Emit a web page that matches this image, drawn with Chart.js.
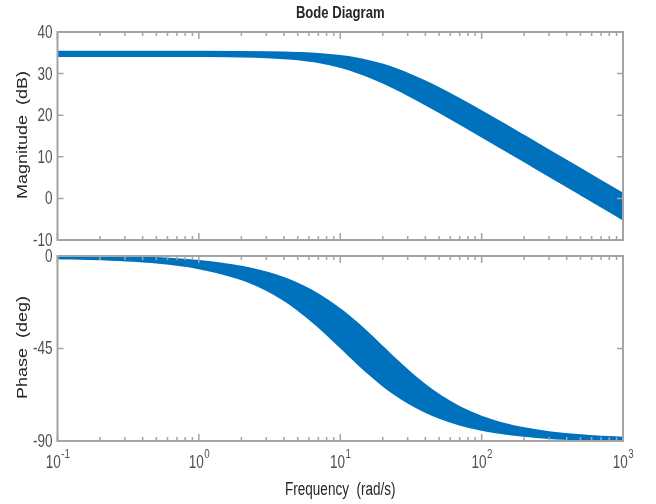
<!DOCTYPE html>
<html>
<head>
<meta charset="utf-8">
<script src="https://cdn.jsdelivr.net/npm/chart.js@4.4.0/dist/chart.umd.min.js"></script>
<style>
html,body{margin:0;padding:0;background:#fff;}
#wrap{position:relative;width:656px;height:504px;overflow:hidden;}
#topBox{position:absolute;left:0;top:0;width:656px;height:248px;}
#botBox{position:absolute;left:0;top:248px;width:656px;height:256px;}
</style>
</head>
<body>
<div id="wrap">
<div id="topBox"><canvas id="magChart" width="656" height="248"></canvas></div>
<div id="botBox"><canvas id="phaseChart" width="656" height="256"></canvas></div>
</div>
<script>
// frequencies (rad/s) at which the two edges of the band were read
const freqs=[0.1,0.2,0.5,1,2,3,4,5,7,10,13,16,20,25,30,40,50,70,100,150,200,300,500,700,1000];
// magnitude (dB), upper and lower edge of the band
const magUpper=[35.0,35.0,35.0,34.99,34.95,34.9,34.82,34.72,34.48,33.98,33.4,32.76,31.88,30.78,29.73,27.83,26.21,23.57,20.64,17.21,14.74,11.24,6.81,3.89,0.8];
const magLower=[34.5,34.5,34.49,34.46,34.36,34.18,33.95,33.67,33.0,31.85,30.66,29.51,28.1,26.53,25.17,22.9,21.07,18.24,15.2,11.7,9.22,5.7,1.27,-1.65,-4.75];
// phase (deg), upper and lower edge of the band
const phaseUpper=[-0.29,-0.57,-1.43,-2.86,-5.71,-8.53,-11.31,-14.04,-19.29,-26.57,-33.02,-38.66,-45.0,-51.34,-56.31,-63.43,-68.2,-74.05,-78.69,-82.41,-84.29,-86.19,-87.71,-88.36,-88.85];
const phaseLower=[-0.55,-1.09,-2.73,-5.44,-10.78,-15.95,-20.85,-25.46,-33.69,-43.6,-51.07,-56.73,-62.3,-67.22,-70.71,-75.29,-78.14,-81.47,-84.01,-86.0,-86.99,-88.0,-88.8,-89.14,-89.4];

const magTicks=[40,30,20,10,0,-10];
const phaseTicks=[0,-45,-90];
const decades=[0.1,1,10,100,1000];
const decadeExp=['-1','0','1','2','3'];

const bandColor='#0072BD';
const frameColor='#a4a4a4';
const tickTextColor='#505050';
const titleColor='#262626';
const fontFam="'Liberation Sans',Arial,Helvetica,sans-serif";
const squeeze=0.75; // the picture's text is narrow

function pts(ys){
  return freqs.map((f,i)=>({x:f,y:ys[i]}));
}

function bandSets(up,low){
  const base={borderColor:bandColor,backgroundColor:bandColor,borderWidth:4,pointRadius:0,cubicInterpolationMode:'monotone'};
  return [
    Object.assign({},base,{data:pts(up),fill:false}),
    Object.assign({},base,{data:pts(low),fill:'-1'})
  ];
}

function narrowText(ctx,str,x,y,font,align,baseline,sx){
  ctx.save();
  ctx.translate(x,y);
  ctx.scale(sx,1);
  ctx.font=font;
  ctx.textAlign=align;
  ctx.textBaseline=baseline;
  ctx.fillText(str,0,0);
  ctx.restore();
}

// box + inward ticks + texts, matlab style
const matlabAxes={
  id:'matlabAxes',
  afterDatasetsDraw(chart,args,opts){
    const ctx=chart.ctx, a=chart.chartArea;
    const xs=chart.scales.x, ys=chart.scales.y;
    ctx.save();
    ctx.strokeStyle=frameColor;
    ctx.lineWidth=1.5;
    ctx.beginPath();
    for(let k=0;k<decades.length;k++){
      const d=decades[k];
      let px=xs.getPixelForValue(d);
      ctx.moveTo(px,a.top);ctx.lineTo(px,a.top+7);
      ctx.moveTo(px,a.bottom);ctx.lineTo(px,a.bottom-7);
      if(k<decades.length-1){
        for(let m=2;m<=9;m++){
          px=xs.getPixelForValue(d*m);
          ctx.moveTo(px,a.top);ctx.lineTo(px,a.top+4);
          ctx.moveTo(px,a.bottom);ctx.lineTo(px,a.bottom-4);
        }
      }
    }
    opts.yTicks.forEach(v=>{
      const py=ys.getPixelForValue(v);
      ctx.moveTo(a.left,py);ctx.lineTo(a.left+6,py);
      ctx.moveTo(a.right,py);ctx.lineTo(a.right-6,py);
    });
    ctx.stroke();
    ctx.lineWidth=2;
    ctx.strokeRect(a.left,a.top,a.right-a.left,a.bottom-a.top);
    ctx.restore();
  },
  afterDraw(chart,args,opts){
    const ctx=chart.ctx, a=chart.chartArea;
    const xs=chart.scales.x, ys=chart.scales.y;
    const cx=(a.left+a.right)/2;
    ctx.save();
    // y tick labels
    ctx.fillStyle=tickTextColor;
    opts.yTicks.forEach(v=>{
      narrowText(ctx,String(v),a.left-5,ys.getPixelForValue(v)+1,'18px '+fontFam,'right','middle',squeeze);
    });
    // y title, rotated
    ctx.fillStyle=titleColor;
    ctx.save();
    ctx.translate(22.5,(a.top+a.bottom)/2-1);
    ctx.scale(0.86,1);
    ctx.rotate(-Math.PI/2);
    ctx.font='18px '+fontFam;
    ctx.textAlign='center';
    ctx.textBaseline='middle';
    ctx.fillText(opts.yTitle,0,0);
    ctx.restore();
    if(opts.title){
      narrowText(ctx,opts.title,cx,18,'bold 17px '+fontFam,'center','alphabetic',0.77);
    }
    if(opts.xLabels){
      ctx.fillStyle=tickTextColor;
      decades.forEach((d,i)=>{
        const px=xs.getPixelForValue(d);
        ctx.font='18px '+fontFam;
        const wb=ctx.measureText('10').width*squeeze;
        ctx.font='13px '+fontFam;
        const we=ctx.measureText(decadeExp[i]).width*squeeze;
        const x0=px-(wb+we)/2;
        narrowText(ctx,'10',x0,a.bottom+27,'18px '+fontFam,'left','alphabetic',squeeze);
        narrowText(ctx,decadeExp[i],x0+wb+0.5,a.bottom+17,'13px '+fontFam,'left','alphabetic',squeeze);
      });
      ctx.fillStyle=titleColor;
      narrowText(ctx,opts.xTitle,cx,a.bottom+54,'18px '+fontFam,'center','alphabetic',squeeze);
    }
    ctx.restore();
  }
};

function makeChart(id,sets,yMin,yMax,pad,extra){
  return new Chart(document.getElementById(id),{
    type:'line',
    data:{datasets:sets},
    options:{
      responsive:false,
      animation:false,
      events:[],
      layout:{padding:pad},
      plugins:{
        legend:{display:false},
        tooltip:{enabled:false},
        matlabAxes:extra
      },
      scales:{
        x:{type:'logarithmic',min:0.1,max:1000,display:false},
        y:{type:'linear',min:yMin,max:yMax,display:false}
      }
    },
    plugins:[matlabAxes]
  });
}

makeChart('magChart',bandSets(magUpper,magLower),-10,40,
  {top:32,right:33,bottom:8,left:57.5},
  {yTicks:magTicks,yTitle:'Magnitude  (dB)',title:'Bode Diagram'});
makeChart('phaseChart',bandSets(phaseUpper,phaseLower),-90,0,
  {top:8,right:33,bottom:63,left:57.5},
  {yTicks:phaseTicks,yTitle:'Phase  (deg)',xLabels:true,xTitle:'Frequency  (rad/s)'});
</script>
</body>
</html>
